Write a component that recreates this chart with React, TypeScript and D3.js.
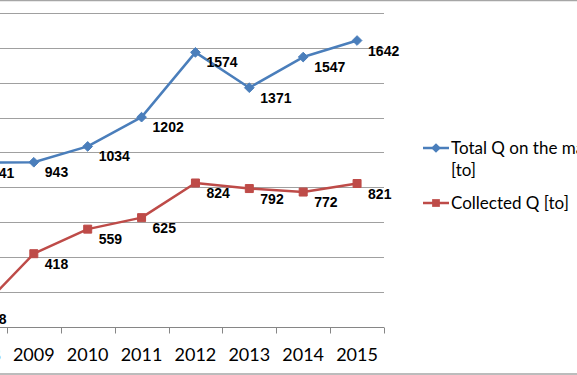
import { useEffect, useRef } from 'react';
import * as d3 from 'd3';

const years = ['2008', '2009', '2010', '2011', '2012', '2013', '2014', '2015'];
const totalQ = [941, 943, 1034, 1202, 1574, 1371, 1547, 1642];
const collectedQ = [98, 418, 559, 625, 824, 792, 772, 821];
const yTicks = [0, 200, 400, 600, 800, 1000, 1200, 1400, 1600, 1800];

const seriesNames = ['Total Q on the market', 'Collected Q [to]'];
const BLUE = '#4a7ebb';
const RED = '#be4b48';

export default function App() {
  const svgRef = useRef<SVGSVGElement | null>(null);

  useEffect(() => {
    if (!svgRef.current) return;
    const W = 577;
    const H = 375;
    const svg = d3.select(svgRef.current);
    svg.selectAll('*').remove();

    // plot area starts off the left edge (picture is cropped)
    const x = d3.scaleBand().domain(years).range([-47, 384]);
    const y = d3.scaleLinear().domain([0, 1800]).range([326.5, 13]);

    svg.append('rect').attr('width', W).attr('height', H).attr('fill', '#fff');

    // outer border
    svg.append('line').attr('x1', 0).attr('x2', W).attr('y1', 0.5).attr('y2', 0.5)
      .attr('stroke', '#a6a6a6').attr('stroke-width', 1.5);
    svg.append('line').attr('x1', 0).attr('x2', W).attr('y1', H - 1).attr('y2', H - 1)
      .attr('stroke', '#a6a6a6').attr('stroke-width', 1.5);

    // gridlines
    svg.append('g')
      .selectAll('line')
      .data(yTicks.slice(1))
      .join('line')
      .attr('x1', -47)
      .attr('x2', 384)
      .attr('y1', d => Math.round(y(d)) + 0.5)
      .attr('y2', d => Math.round(y(d)) + 0.5)
      .attr('stroke', '#a0a0a0')
      .attr('stroke-width', 1);

    // x axis
    const xAxis = svg.append('g').attr('transform', `translate(0,${Math.round(y(0)) + 0.5})`);
    xAxis.append('line').attr('x1', -47).attr('x2', 384).attr('stroke', '#868686').attr('stroke-width', 1);
    const edges = years.map(d => x(d) as number).concat([384]);
    xAxis.selectAll('.tick')
      .data(edges)
      .join('line')
      .attr('x1', d => Math.round(d) + 0.5)
      .attr('x2', d => Math.round(d) + 0.5)
      .attr('y1', 0)
      .attr('y2', 6)
      .attr('stroke', '#868686');
    xAxis.selectAll('text')
      .data(years)
      .join('text')
      .attr('x', d => (x(d) as number) + x.bandwidth() / 2)
      .attr('y', 33)
      .attr('text-anchor', 'middle')
      .attr('font-family', 'Lato, "Open Sans", sans-serif')
      .attr('font-size', 18)
      .attr('fill', '#000')
      .text(d => d);

    const cx = (i: number) => (x(years[i]) as number) + x.bandwidth() / 2;
    const line = d3.line<number>().x((_, i) => cx(i)).y(d => y(d));

    const drawSeries = (vals: number[], color: string, marker: 'diamond' | 'square') => {
      const g = svg.append('g');
      g.append('path')
        .attr('d', line(vals))
        .attr('fill', 'none')
        .attr('stroke', color)
        .attr('stroke-width', 2.5)
        .attr('stroke-linejoin', 'round');
      const sym = marker === 'diamond'
        ? d3.symbol().type(d3.symbolDiamond2).size(60)
        : d3.symbol().type(d3.symbolSquare).size(64);
      g.selectAll('path.m')
        .data(vals)
        .join('path')
        .attr('class', 'm')
        .attr('transform', (d, i) => `translate(${cx(i)},${y(d)})`)
        .attr('d', sym())
        .attr('fill', color)
        .attr('stroke', color);
      g.selectAll('text')
        .data(vals)
        .join('text')
        .attr('x', (_, i) => cx(i) + 11)
        .attr('y', d => y(d) + 15)
        .attr('font-family', '"Liberation Sans", Arial, sans-serif')
        .attr('font-weight', 'bold')
        .attr('font-size', 14)
        .attr('fill', '#000')
        .text(d => d);
    };

    drawSeries(totalQ, BLUE, 'diamond');
    drawSeries(collectedQ, RED, 'square');

    // legend
    const legend = svg.append('g').attr('font-family', 'Lato, "Open Sans", sans-serif').attr('font-size', 17);
    const items = [
      { name: seriesNames[0], color: BLUE, marker: 'diamond', y: 148 },
      { name: seriesNames[1], color: RED, marker: 'square', y: 203 },
    ];
    items.forEach(it => {
      legend.append('line').attr('x1', 423).attr('x2', 449).attr('y1', it.y).attr('y2', it.y)
        .attr('stroke', it.color).attr('stroke-width', 2.5);
      const sym = it.marker === 'diamond'
        ? d3.symbol().type(d3.symbolDiamond2).size(60)
        : d3.symbol().type(d3.symbolSquare).size(60);
      legend.append('path').attr('transform', `translate(436,${it.y})`).attr('d', sym())
        .attr('fill', it.color);
    });
    legend.append('text').attr('x', 451).attr('y', 154).text(seriesNames[0]);
    legend.append('text').attr('x', 451).attr('y', 176).text('[to]');
    legend.append('text').attr('x', 451).attr('y', 209).text(seriesNames[1]);
  }, []);

  return (
    <svg
      ref={svgRef}
      width={577}
      height={375}
      style={{ position: 'absolute', left: 0, top: 0, display: 'block' }}
    />
  );
}
